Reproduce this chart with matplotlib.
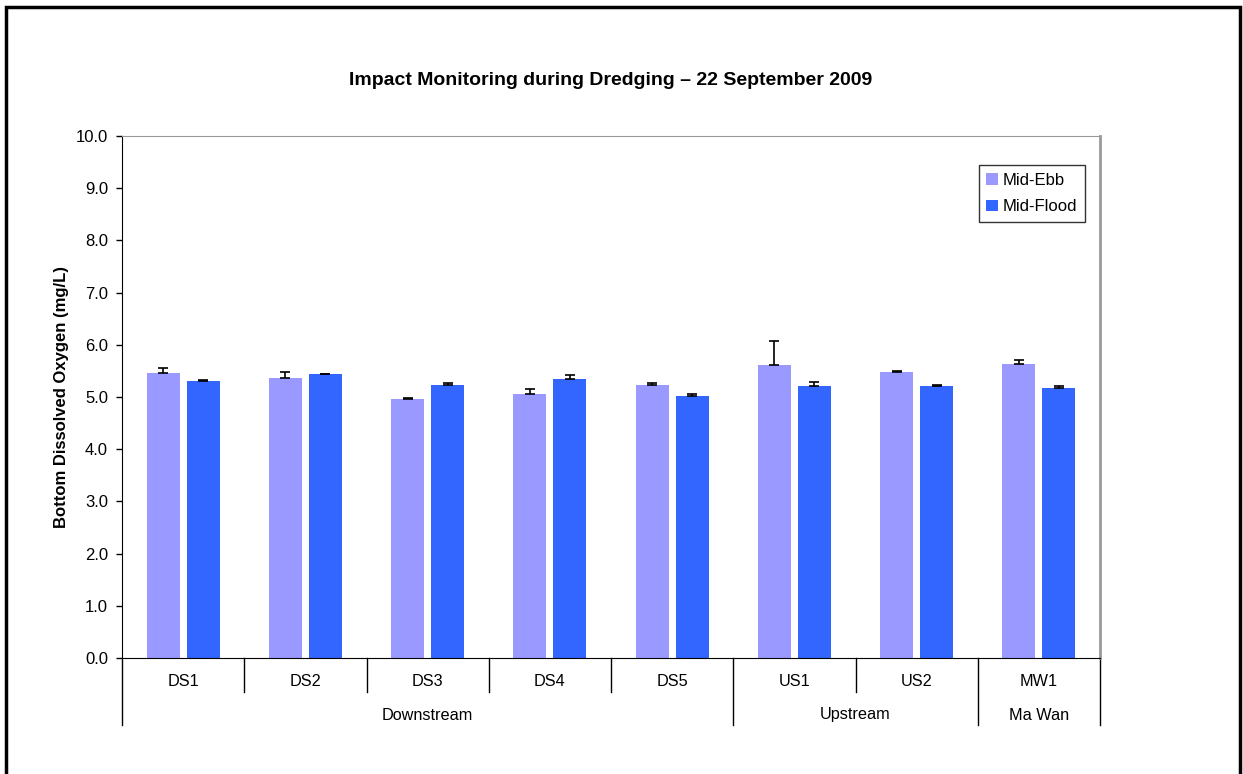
import numpy as np
import matplotlib.pyplot as plt
from matplotlib.patches import Rectangle

plt.rcParams['font.family'] = ['Liberation Sans', 'DejaVu Sans']

# data
stations = ['DS1', 'DS2', 'DS3', 'DS4', 'DS5', 'US1', 'US2', 'MW1']
groups = ['Downstream', 'Upstream', 'Ma Wan']
group_sizes = [5, 2, 1]

mid_ebb = [5.46, 5.36, 4.96, 5.06, 5.23, 5.61, 5.48, 5.63]
mid_ebb_err = [0.10, 0.11, 0.03, 0.09, 0.03, 0.47, 0.02, 0.08]
mid_flood = [5.31, 5.44, 5.23, 5.34, 5.02, 5.21, 5.21, 5.17]
mid_flood_err = [0.02, 0.01, 0.04, 0.08, 0.04, 0.08, 0.02, 0.04]

EBB_COLOR = '#9999FF'
FLOOD_COLOR = '#3366FF'

fig = plt.figure(figsize=(12.43, 7.74), dpi=100)
ax = fig.add_axes([122/1243, 1 - 658/774, (1100-122)/1243, (658-136)/774])

x = np.arange(len(stations))
w = 0.27
off = 0.163
ax.bar(x - off, mid_ebb, w, color=EBB_COLOR, label='Mid-Ebb',
       yerr=[np.zeros(len(x)), mid_ebb_err], capsize=3.5,
       error_kw=dict(ecolor='black', elinewidth=1.2, capthick=1.2))
ax.bar(x + off, mid_flood, w, color=FLOOD_COLOR, label='Mid-Flood',
       yerr=[np.zeros(len(x)), mid_flood_err], capsize=3.5,
       error_kw=dict(ecolor='black', elinewidth=1.2, capthick=1.2))

ax.set_xlim(-0.5, len(stations) - 0.5)
ax.set_ylim(0, 10)
ax.set_yticks(np.arange(0, 10.01, 1.0))
ax.set_yticklabels(['%.1f' % v for v in np.arange(0, 10.01, 1.0)], fontsize=12)
ax.tick_params(axis='y', direction='out', length=4, width=1, pad=6)
ax.set_xticks([])

ax.spines['left'].set_color('black')
ax.spines['bottom'].set_color('black')
ax.spines['top'].set_color('#999999')
ax.spines['right'].set_color('#999999')
ax.spines['right'].set_linewidth(2)

ax.set_ylabel('Bottom Dissolved Oxygen (mg/L)', fontsize=12, fontweight='bold', labelpad=5)
ax.set_title('Impact Monitoring during Dredging \u2013 22 September 2009',
             fontsize=14, fontweight='bold', pad=37)

# two-level category axis
trans = ax.get_xaxis_transform()
cat_bottom = -34/522
grp_bottom = -67/522
for i, s in enumerate(stations):
    ax.text(i, -24/522, s, transform=trans, ha='center', va='center', fontsize=11.7)
bounds = np.cumsum([0] + group_sizes)
for k in range(len(stations) + 1):
    y1 = grp_bottom if k in bounds else cat_bottom
    ax.plot([k - 0.5, k - 0.5], [0, y1], transform=trans, color='black',
            lw=1, clip_on=False)
for g, a, b in zip(groups, bounds[:-1], bounds[1:]):
    ax.text((a + b - 1) / 2, -57/522, g, transform=trans, ha='center',
            va='center', fontsize=11.7)

leg = ax.legend(loc='upper right', bbox_to_anchor=(0.9847, 0.9444), fontsize=12,
                frameon=True, fancybox=False, edgecolor='black',
                handlelength=0.7, handleheight=0.7, handletextpad=0.3,
                borderpad=0.45, labelspacing=0.7, borderaxespad=0)
leg.get_frame().set_linewidth(1)

fig.add_artist(Rectangle((6/1243, -0.01), (1240-6)/1243, (774-7)/774 + 0.01,
                         transform=fig.transFigure, fill=False, lw=2.5,
                         edgecolor='black'))

fig.savefig('out.png', dpi=100)
